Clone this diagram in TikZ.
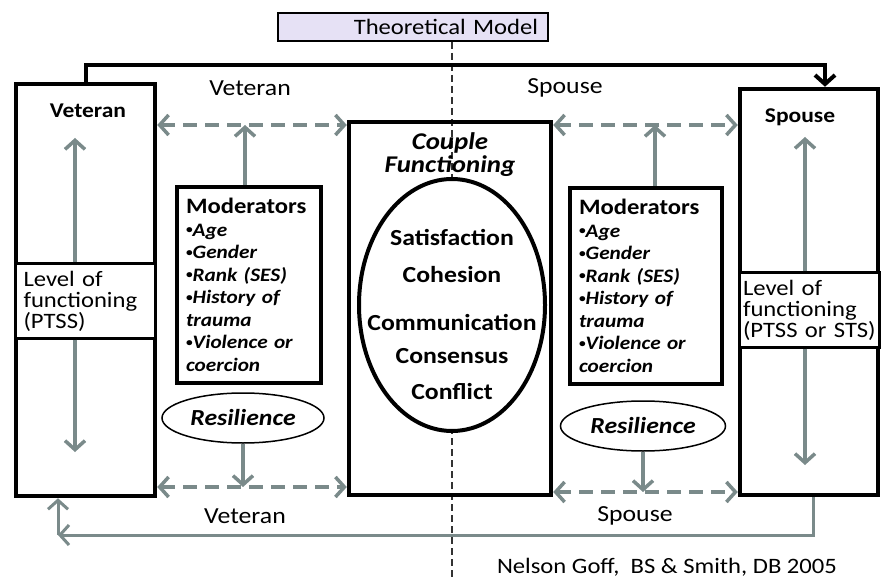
\documentclass[tikz,border=0pt]{standalone}
\usepackage{fontspec}
\setmainfont{Carlito}[FakeStretch=1.12]
\usetikzlibrary{arrows.meta,shapes.geometric}

\definecolor{arrowgray}{RGB}{122,138,138}
\definecolor{titlefill}{RGB}{230,225,245}

\newcommand{\dotitem}{{\upshape\fontsize{12}{12}\selectfont\raisebox{2.5pt}{•}}}
\newcommand{\moderatorlist}{%
	{\upshape\fontsize{22}{24}\selectfont Moderators}\\
	\dotitem Age\\
	\dotitem Gender\\
	\dotitem Rank (SES)\\
	\dotitem History of\\
	trauma\\
	\dotitem Violence or\\
	coercion}

\begin{document}
\begin{tikzpicture}[x=1pt, y=-1pt,
		frame/.style={draw, line width=4.5pt, inner sep=0pt},
		levelbox/.style={draw, line width=3pt, fill=white, text width=124pt, align=left, inner xsep=8pt, minimum height=74pt, font=\fontsize{22}{21}\selectfont},
		modbox/.style={draw, line width=4.5pt, text width=126pt, align=left, inner xsep=9pt, minimum height=196pt, font=\bfseries\itshape\fontsize{19}{22.5}\selectfont},
		resil/.style={draw, ellipse, line width=1.5pt, inner sep=0pt, font=\bfseries\itshape\fontsize{23}{25}\selectfont},
		headtext/.style={font=\bfseries\fontsize{21}{23}\selectfont},
		sidetext/.style={font=\fontsize{23}{25}\selectfont},
		coretext/.style={font=\bfseries\fontsize{23}{25}\selectfont},
		grayarrow/.style={draw=arrowgray, line width=3.5pt, -{Straight Barb[length=9pt,width=20pt]}},
		dasharrow/.style={draw=arrowgray, line width=3.5pt, dash pattern=on 14pt off 8pt, {Straight Barb[length=9pt,width=20pt]}-{Straight Barb[length=9pt,width=20pt]}},
		topline/.style={draw, line width=4pt, -{Straight Barb[length=9pt,width=20pt]}}
	]

	\fill[white] (0,0) rectangle (883,585);

	% title and middle axis
	\node[draw, line width=2pt, fill=titlefill, text width=250pt, align=right, inner xsep=10pt, minimum height=28pt, font=\fontsize{22}{24}\selectfont] (model) at (413,27) {Theoretical Model};
	\coordinate (axisend) at (452,578);
	\draw[black!80, line width=1.5pt, dash pattern=on 7pt off 4pt] (model.south -| axisend) -- (axisend);

	% veteran side
	\node[frame, minimum width=139pt, minimum height=412pt] (vet) at (85.5,290) {};
	\node[headtext] (vettitle) at (88,111) {Veteran};
	\coordinate (vtop) at (75,138);
	\coordinate (vbot) at (75,452);
	\node[levelbox] (lvlV) at (85.5,301) {Level of\\functioning\\(PTSS)};
	\draw[grayarrow] (lvlV.north -| vtop) -- (vtop);
	\draw[grayarrow] (lvlV.south -| vbot) -- (vbot);

	% spouse side
	\node[frame, minimum width=138pt, minimum height=406pt] (sp) at (809,292) {};
	\node[headtext] (sptitle) at (800,117) {Spouse};
	\coordinate (stop) at (805,137);
	\coordinate (sbot) at (805,465);
	\node[levelbox, text width=132pt, inner xsep=4pt] (lvlS) at (809,310) {Level of\\functioning\\\mbox{(PTSS or STS)}};
	\draw[grayarrow] (lvlS.north -| stop) -- (stop);
	\draw[grayarrow] (lvlS.south -| sbot) -- (sbot);

	% couple functioning
	\node[frame, minimum width=202pt, minimum height=373pt] (couple) at (450,308.5) {};
	\node[align=center, font=\bfseries\itshape\fontsize{24}{23}\selectfont] (cpltitle) at (450,155) {Couple\\Functioning};
	\node[draw, ellipse, line width=4pt, fill=white, minimum width=186pt, minimum height=252pt] (core) at (452,305) {};
	\foreach \word/\y in {Satisfaction/237, Cohesion/275, Communication/322, Consensus/356, Conflict/392}
		\node[coretext] (\word) at (452,\y) {\word};

	% moderators and resilience
	\node[modbox] (modV) at (249,285) {\moderatorlist};
	\node[modbox, text width=134pt] (modS) at (646,286) {\moderatorlist};
	\node[resil, minimum width=162pt, minimum height=50pt] (resV) at (243,418) {Resilience};
	\node[resil, minimum width=165pt, minimum height=50pt] (resS) at (643,426) {Resilience};

	\coordinate (vu) at (245,125);
	\coordinate (vl) at (243,487);
	\coordinate (su) at (655,125);
	\coordinate (sl) at (643,492);

	\draw[dasharrow] (vu -| vet.east) -- (vu -| couple.west);
	\draw[dasharrow] (vl -| vet.east) -- (vl -| couple.west);
	\draw[dasharrow] (su -| couple.east) -- (su -| sp.west);
	\draw[dasharrow] (sl -| couple.east) -- (sl -| sp.west);
	\draw[grayarrow] ([xshift=-4pt]modV.north) -- (vu);
	\draw[grayarrow] (resV.south) -- (vl);
	\draw[grayarrow] ([xshift=9pt]modS.north) -- (su);
	\draw[grayarrow] (resS.south) -- (sl);

	% outer loops
	\draw[topline] (vet.north) -- ++(0,-17) -| ([xshift=16pt]sp.north);
	\coordinate (loopcorner) at (58,535);
	\draw[grayarrow, line width=3pt] ([xshift=4pt]sp.south) |- (loopcorner);
	\draw[grayarrow, line width=3pt] (loopcorner) -- (loopcorner |- vet.south);

	\node[sidetext] (vetup) at (250,88) {Veteran};
	\node[sidetext] (spup) at (565,88) {Spouse};
	\node[sidetext] (vetdown) at (245,516) {Veteran};
	\node[sidetext] (spdown) at (635,516) {Spouse};

	\node[font=\fontsize{22}{24}\selectfont] (source) at (667,567) {Nelson Goff,~ BS \& Smith, DB 2005};

\end{tikzpicture}
\end{document}
